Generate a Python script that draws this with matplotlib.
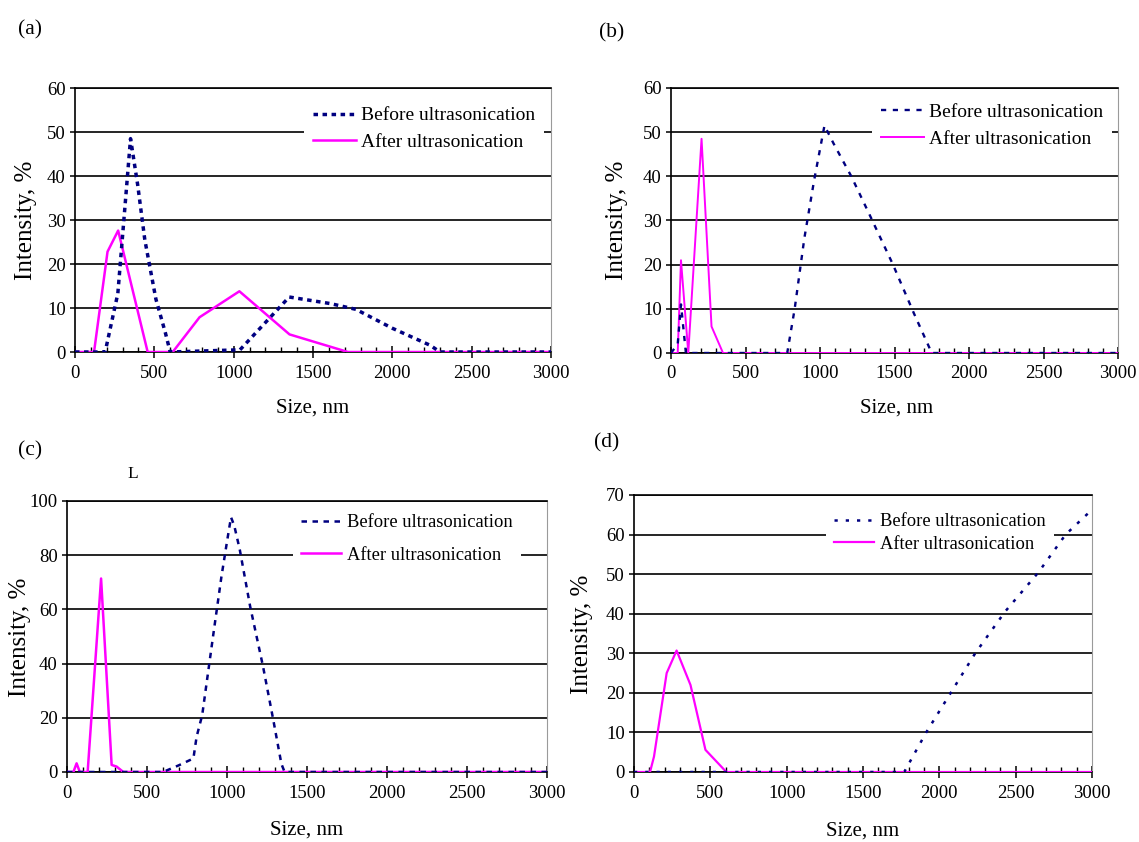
#!/usr/bin/env python3
"""Particle size distributions before/after ultrasonication, four panels."""

import matplotlib
matplotlib.use("Agg")
import matplotlib.pyplot as plt
from matplotlib.ticker import MultipleLocator

W, H = 1139, 842

LABEL_BEFORE = "Before ultrasonication"
LABEL_AFTER = "After ultrasonication"
X_TICKS = [0, 500, 1000, 1500, 2000, 2500, 3000]

# (a)
a_before_size = [0, 190, 270, 350, 395, 440, 510, 570, 600, 1040, 1350, 1610, 1770, 2000, 2240, 2300, 3000]
a_before_int = [0, 0, 13.3, 48.5, 38, 25.5, 12, 4.3, 0, 0.5, 12.5, 11, 9.7, 5.4, 1.5, 0, 0]
a_after_size = [0, 120, 205, 272, 458, 616, 785, 1036, 1352, 1720, 3000]
a_after_int = [0, 0, 22.8, 27.6, 0, 0, 7.9, 13.8, 4.0, 0, 0]

# (b)
b_before_size = [0, 45, 67, 100, 780, 830, 895, 960, 1030, 1090, 1210, 1330, 1490, 1630, 1710, 1750, 3000]
b_before_int = [0, 2, 11, 0, 0, 10, 26, 39, 51.5, 47.5, 40, 31.5, 20, 9, 3, 0, 0]
b_after_size = [0, 45, 67, 116, 205, 272, 349, 3000]
b_after_int = [0, 0, 21, 0, 48.5, 6, 0, 0]

# (c)
c_before_size = [0, 600, 640, 700, 790, 810, 845, 915, 965, 1000, 1025, 1045, 1080, 1145, 1225, 1290, 1340, 1360, 3000]
c_before_int = [0, 0, 1, 2.5, 5, 13, 21, 51, 72, 85, 94, 91, 82, 61, 39, 19, 3, 0, 0]
c_after_size = [0, 40, 60, 80, 129, 213, 279, 310, 352, 3000]
c_after_int = [0, 0, 3.2, 0, 0, 71.4, 2.6, 2, 0, 0]

# (d)
d_before_size = [0, 1770, 1914, 2235, 2430, 2650, 2827, 3000]
d_before_int = [0, 0, 10, 30, 40.5, 50.5, 60, 66.3]
d_after_size = [0, 105, 131, 214, 279, 370, 468, 605, 3000]
d_after_int = [0, 0, 3.9, 25, 30.7, 22, 5.6, 0, 0]

NAVY = "#000080"
MAGENTA = "#ff00ff"


def px_rect(x0, x1, ytop, ybot):
    return [x0 / W, 1 - ybot / H, (x1 - x0) / W, (ybot - ytop) / H]


def fig_pt(x, y):
    return x / W, 1 - y / H


def panel(fig, box, before, after, ymax, ystep, bstyle, blw, alw, leg):
    ax = fig.add_axes(px_rect(*box))
    ax.plot(after[0], after[1], color=MAGENTA, lw=alw, zorder=3, label=LABEL_AFTER)
    ax.plot(before[0], before[1], color=NAVY, lw=blw, ls=bstyle, zorder=4,
            label=LABEL_BEFORE, solid_capstyle="butt", dash_capstyle="butt")

    ax.set_xlim(0, 3000)
    ax.set_ylim(0, ymax)
    ax.set_xticks(X_TICKS)
    ax.xaxis.set_minor_locator(MultipleLocator(100))
    ax.yaxis.set_major_locator(MultipleLocator(ystep))

    ax.grid(True, axis="y", color="black", lw=1.2, zorder=1)
    ax.set_axisbelow(True)
    ax.tick_params(axis="x", which="major", direction="inout", length=9, width=1.1,
                   pad=4.5, labelsize=13.5)
    ax.tick_params(axis="x", which="minor", direction="in", length=3.6, width=1)
    ax.tick_params(axis="y", direction="out", length=3.6, width=1.1, pad=3,
                   labelsize=13.5)
    for side in ("left", "bottom", "top"):
        ax.spines[side].set_color("black")
        ax.spines[side].set_linewidth(1.2)
    ax.spines["right"].set_color("#9a9a9a")
    ax.spines["right"].set_linewidth(0.8)

    h, l = ax.get_legend_handles_labels()
    lx, ly, fs, hl, ls = leg
    lg = ax.legend(h[::-1], l[::-1], loc="center left", bbox_to_anchor=fig_pt(lx, ly),
                   bbox_transform=fig.transFigure, borderaxespad=0, borderpad=0.45,
                   handlelength=hl, handletextpad=0.3, labelspacing=ls, fontsize=fs,
                   frameon=True, fancybox=False, framealpha=1, facecolor="white",
                   edgecolor="none")
    lg.set_zorder(2)
    return ax


def main():
    plt.rcParams["font.family"] = ["Liberation Serif", "DejaVu Serif"]
    fig = plt.figure(figsize=(W / 100, H / 100), dpi=100)

    panel(fig, (75, 551, 88, 352), (a_before_size, a_before_int), (a_after_size, a_after_int),
          60, 10, (0, (1.3, 1.3)), 2.5, 1.8, (304, 129, 14, 2.2, 0.48))
    panel(fig, (671, 1118, 88, 353), (b_before_size, b_before_int), (b_after_size, b_after_int),
          60, 10, (0, (2.2, 2.8)), 1.7, 1.4, (872, 125.5, 14, 2.2, 0.48))
    panel(fig, (67, 547, 501, 772), (c_before_size, c_before_int), (c_after_size, c_after_int),
          100, 20, (0, (2.2, 2.2)), 1.8, 1.8, (293, 539, 13.3, 2.15, 0.85))
    panel(fig, (634, 1092, 495, 772), (d_before_size, d_before_int), (d_after_size, d_after_int),
          70, 10, (0, (1.3, 3.2)), 1.8, 1.6, (826, 533, 13.3, 2.15, 0.3))

    # axis titles
    for x, y in [(26, 220), (617, 220), (20, 637), (582, 634)]:
        fig.text(*fig_pt(x, y), "Intensity, %", rotation=90, ha="center", va="center", fontsize=18)
    for x, y in [(313, 408), (897, 408), (307, 830), (863, 831)]:
        fig.text(*fig_pt(x, y), "Size, nm", ha="center", va="center", fontsize=15)

    # panel letters
    for x, y, s in [(30, 30, "(a)"), (612, 33, "(b)"), (30, 451, "(c)"), (607, 443, "(d)")]:
        fig.text(*fig_pt(x, y), s, ha="center", va="center", fontsize=15.5)
    fig.text(*fig_pt(133, 474), "L", ha="center", va="center", fontsize=12.5)

    fig.savefig("out.png", dpi=100)


if __name__ == "__main__":
    main()
